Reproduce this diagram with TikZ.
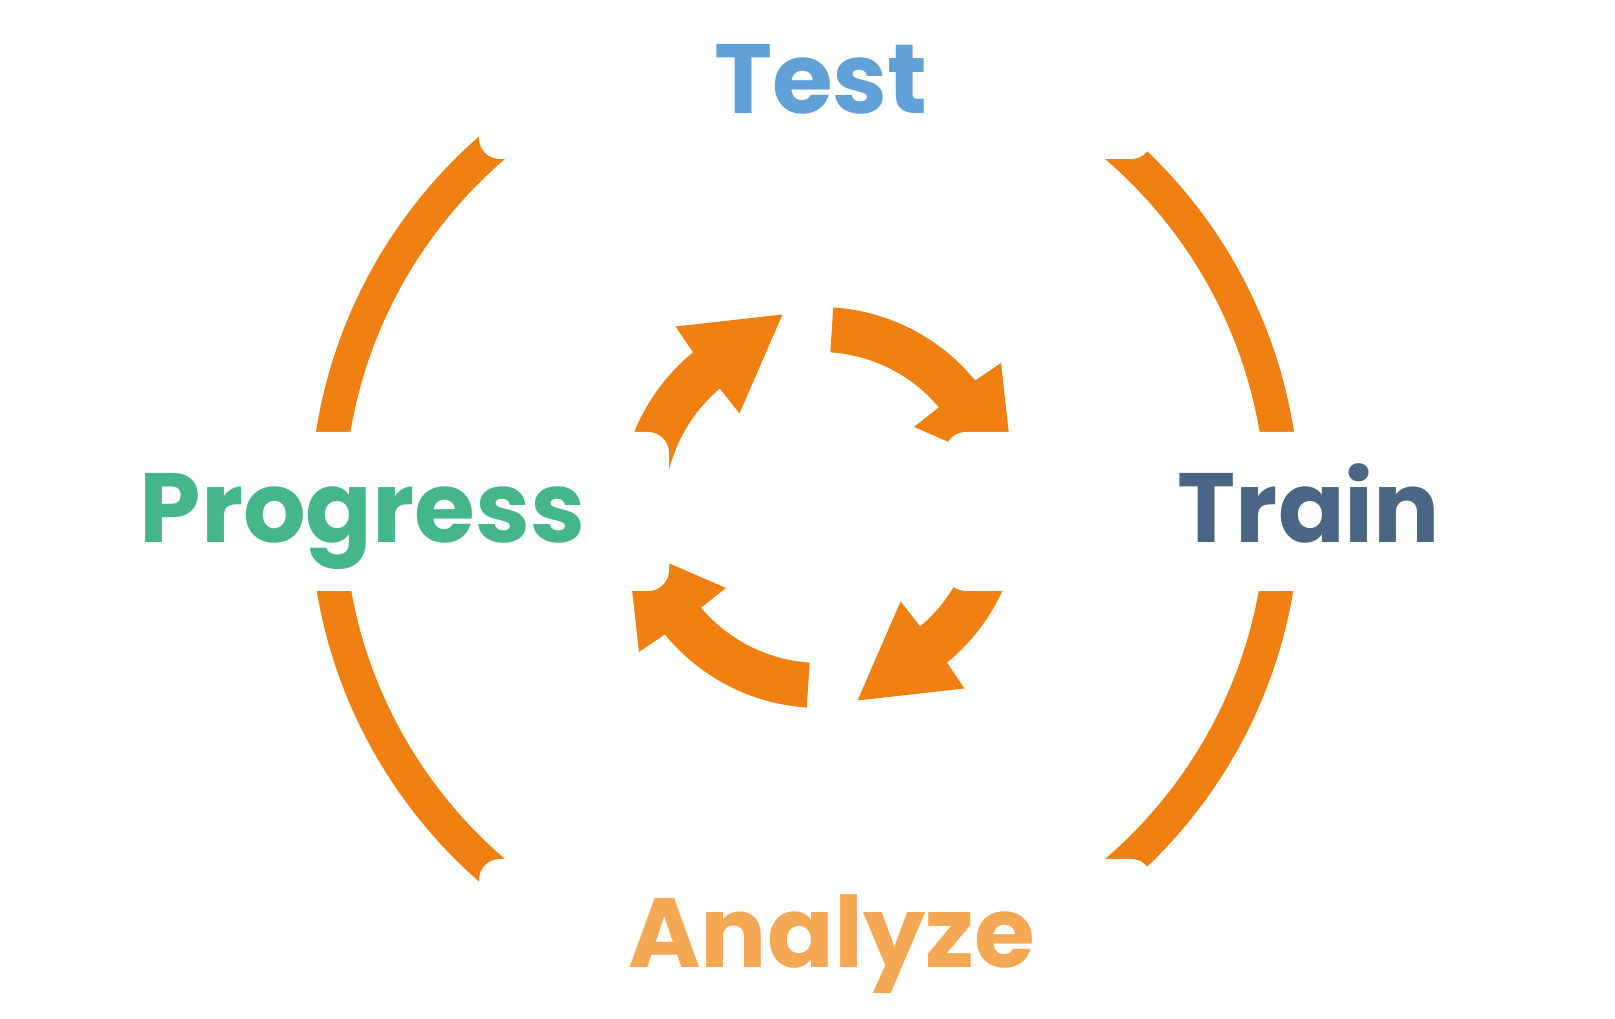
\documentclass[tikz,border=0pt]{standalone}
\usepackage{fontspec}
\newfontfamily\labelfont{Poppins}
\definecolor{arcorange}{HTML}{F08012}
\definecolor{testblue}{HTML}{62A1D7}
\definecolor{trainblue}{HTML}{4A6684}
\definecolor{progressgreen}{HTML}{45B68A}
\definecolor{analyzeorange}{HTML}{F5A853}
\tikzset{
  ring/.style={line width=0.34cm, draw=arcorange},
  turn/.style={fill=arcorange},
  cut/.style={fill=white, rounded corners=0.21cm},
  stage/.style={anchor=base, inner sep=0pt, font=\labelfont\bfseries\fontsize{28}{30}\selectfont}
}
\begin{document}
\begin{tikzpicture}[x=0.01cm, y=0.01cm]
	\useasboundingbox (0,0) rectangle (1615,1019);
	\draw[ring] (805,510) circle[radius=478];
	\foreach \r in {0,90,180,270}{
			\fill[turn, shift={(820,511.5)}, rotate=\r] (86.2:200.5) arc[start angle=86.2, end angle=39.3, radius=200.5]
			-- (38.6:231.6) -- (11:196.6) -- (40.6:123.8) -- (40.1:155.5)
			arc[start angle=40.1, end angle=86.2, radius=155.5] -- cycle;
		}
	\fill[cut] (479,860) rectangle (1152,1060);
	\fill[cut] (479,-40) rectangle (1152,160);
	\fill[cut] (-40,428) rectangle (669,587);
	\fill[cut] (945,428) rectangle (1660,587);

	\node[stage, text=testblue] (test) at (821,905) {Test};
	\node[stage, text=trainblue] (train) at (1309,476) {Train};
	\node[stage, text=analyzeorange] (analyze) at (831.5,51) {Analyze};
	\node[stage, text=progressgreen] (progress) at (362.5,476) {Progress};
\end{tikzpicture}
\end{document}
